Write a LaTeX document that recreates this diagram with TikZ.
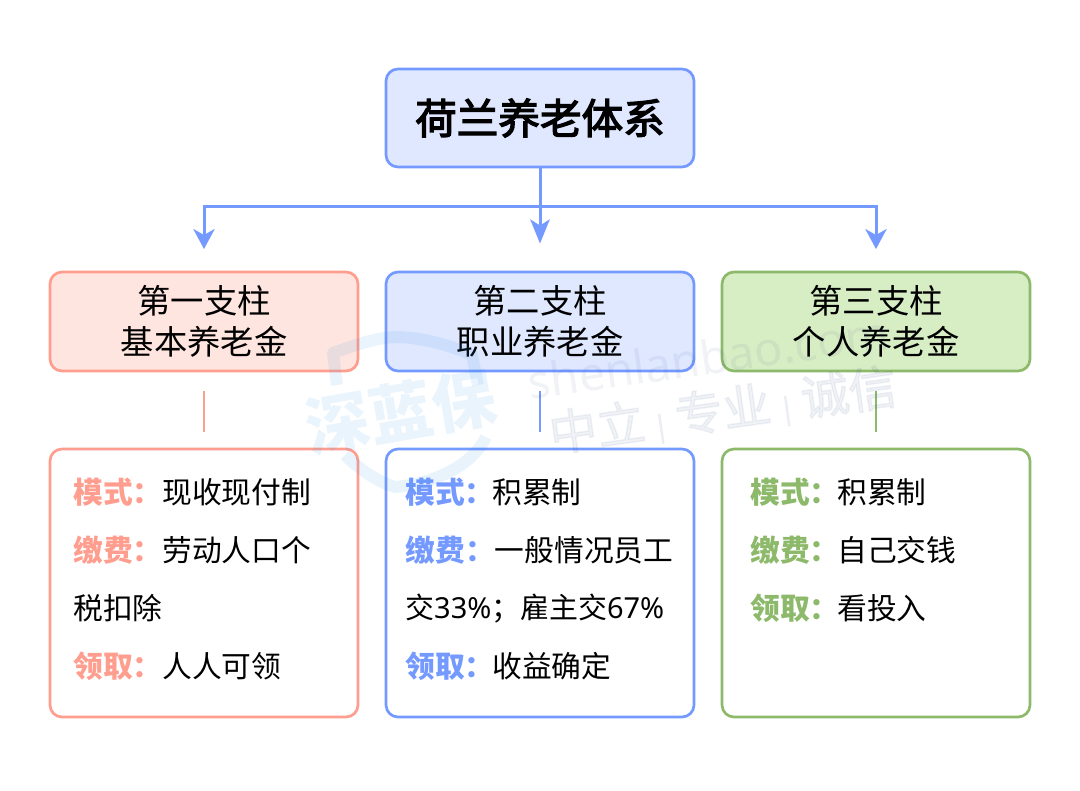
\documentclass[tikz,border=0pt]{standalone}
\usepackage{fontspec}
\setmainfont{Noto Sans CJK SC}
\newfontfamily\latinf{Noto Sans}
\newfontfamily\medf[FakeBold=3]{Noto Sans CJK SC}
\usetikzlibrary{arrows.meta}
\definecolor{bluel}{HTML}{7499FF}
\definecolor{bluef}{HTML}{DFE8FF}
\definecolor{redl}{HTML}{FF9E8F}
\definecolor{redf}{HTML}{FFE5DF}
\definecolor{greenl}{HTML}{8DB96B}
\definecolor{greenf}{HTML}{D7EDC4}
\definecolor{wmblue}{HTML}{2F8FE6}
\definecolor{wmgrey}{HTML}{2F4A80}
\tikzset{
  x=0.75pt,y=-0.75pt,
  boxbase/.style={draw,line width=2pt,rounded corners=9pt,inner sep=0pt,align=center,minimum width=231pt,text=black},
  rootbox/.style={boxbase,draw=bluel,fill=bluef,minimum height=73.5pt,font=\fontsize{31.2pt}{36pt}\selectfont\medf},
  pillarbox/.style={boxbase,minimum height=74.25pt,font=\fontsize{25pt}{30.5pt}\selectfont},
  detailbox/.style={boxbase,fill=white,minimum height=201pt},
  line/.style={anchor=west,inner sep=0pt,text=black,font=\fontsize{22.3pt}{26pt}\selectfont},
  link/.style={draw=bluel,line width=2.25pt},
  tip/.style={-{Stealth[length=#1,width=16pt,inset=4.5pt]}},
  sep/.style={line width=1.9pt},
  wmlogo/.style={rotate=10,text=wmblue,text opacity=.1,font=\fontsize{48pt}{50pt}\selectfont\bfseries,inner sep=0pt},
  wmshield/.style={draw=wmblue,draw opacity=.1,line width=9pt,line cap=butt,line join=round},
  wmtext/.style={rotate=8,text=wmgrey,text opacity=.07,inner sep=0pt},
}
\newcommand{\lab}[2]{{\bfseries\color{#1}#2}}
\newcommand{\labt}[2]{{\bfseries\color{#1}#2}\hspace{-1.5pt}}
\newcommand{\wmbar}{\hspace{9pt}{\fontsize{20pt}{20pt}\selectfont |}\hspace{9pt}}
\begin{document}
\begin{tikzpicture}
\useasboundingbox (0,0) rectangle (1080,791);
% boxes
\node[rootbox] (root) at (540,118) {荷兰养老体系};
\node[pillarbox,draw=redl,fill=redf] (p1) at (204,321.5) {第一支柱\\基本养老金};
\node[pillarbox,draw=bluel,fill=bluef] (p2) at (540,321.5) {第二支柱\\职业养老金};
\node[pillarbox,draw=greenl,fill=greenf] (p3) at (876,321.5) {第三支柱\\个人养老金};
\node[detailbox,draw=redl] (d1) at (204,583) {};
\node[detailbox,draw=bluel] (d2) at (540,583) {};
\node[detailbox,draw=greenl] (d3) at (876,583) {};
% connectors
\coordinate (bus) at (540,207);
\coordinate (busl) at (204,207);
\coordinate (busr) at (876,207);
\coordinate (t1) at (204,249);
\coordinate (t2) at (540,243.5);
\coordinate (t3) at (876,249);
\draw[link] (root.south) -- (bus);
\draw[link,tip=15pt] (bus) -- (busl) -- (t1);
\draw[link,tip=15pt] (bus) -- (busr) -- (t3);
\draw[link,-{Stealth[length=18pt,width=14.5pt,inset=4.5pt]}] (bus) -- (t2);
\coordinate (s1a) at (204,391); \coordinate (s1b) at (204,432);
\coordinate (s2a) at (540,391); \coordinate (s2b) at (540,432);
\coordinate (s3a) at (876,391); \coordinate (s3b) at (876,432);
\draw[sep,draw=redl] (s1a) -- (s1b);
\draw[sep,draw=bluel] (s2a) -- (s2b);
\draw[sep,draw=greenl] (s3a) -- (s3b);
% detail text
\node[line] (a1) at (73,492.5) {\lab{redl}{模式：}现收现付制};
\node[line] (a2) at (73,550.5) {\lab{redl}{缴费：}劳动人口个};
\node[line] (a3) at (73,608.5) {税扣除};
\node[line] (a4) at (73,666) {\lab{redl}{领取：}人人可领};
\node[line] (b1) at (405,492.5) {\labt{bluel}{模式：}积累制};
\node[line] (b2) at (405.5,550.5) {\lab{bluel}{缴费：}一般情况员工};
\node[line,font=\fontsize{21.7pt}{26pt}\selectfont] (b3) at (405,608.5) {交{\latinf 33\%}；雇主交{\latinf 67\%}};
\node[line] (b4) at (405,666) {\labt{bluel}{领取：}收益确定};
\node[line] (c1) at (750,492.5) {\labt{greenl}{模式：}积累制};
\node[line] (c2) at (750,550.5) {\labt{greenl}{缴费：}自己交钱};
\node[line] (c3) at (750,608.5) {\labt{greenl}{领取：}看投入};
% watermark
\node[wmlogo] (w1) at (401,412) {深蓝保};
\draw[wmshield] (337,385) -- (333,353) .. controls (355,345) and (375,338) .. (395,337) .. controls (420,337) and (450,345) .. (472,355) -- (478,385);
\draw[wmshield] (345,455) .. controls (360,470) and (378,482) .. (395,487) .. controls (425,485) and (470,470) .. (486,437);
\node[wmtext,font=\fontsize{35pt}{40pt}\selectfont\latinf\bfseries] (w2) at (708,357) {shenlanbao.com};
\node[wmtext,font=\fontsize{36pt}{40pt}\selectfont\medf] (w3) at (723,411) {中立\wmbar 专业\wmbar 诚信};
\end{tikzpicture}
\end{document}
